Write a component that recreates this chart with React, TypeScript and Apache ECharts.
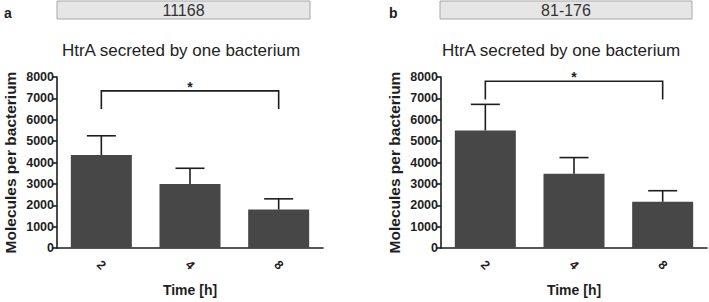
import React, { useEffect, useRef } from "react";
import * as echarts from "echarts";

const categories = ["2", "4", "8"];
const meansA = [4350, 3000, 1800];
const sdA = [900, 730, 500];
const meansB = [5500, 3470, 2160];
const sdB = [1220, 760, 520];
// bracket: [fromIndex, toIndex, barY, legBottomY]
const bracketA = [0, 2, 7350, 6500];
const bracketB = [0, 2, 7800, 6950];
const yTicks = { min: 0, max: 8000, interval: 1000 };
const strainA = "11168";
const strainB = "81-176";
const title = "HtrA secreted by one bacterium";
const yName = "Molecules per bacterium";
const xName = "Time [h]";

const FONT = "'Liberation Sans', Arial, Helvetica, sans-serif";
const INK = "#1e1e1e";

export default function App() {
  const ref = useRef<HTMLDivElement>(null);
  useEffect(() => {
    if (!ref.current) return;
    const chart = echarts.init(ref.current, undefined, { renderer: "svg" });

    const errRender = (params: any, api: any) => {
      const base = api.coord([api.value(0), api.value(1)]);
      const top = api.coord([api.value(0), api.value(1) + api.value(2)]);
      const half = 14.5;
      const st = { stroke: INK, lineWidth: 1.6 };
      return {
        type: "group",
        children: [
          { type: "line", shape: { x1: base[0], y1: base[1], x2: top[0], y2: top[1] }, style: st },
          { type: "line", shape: { x1: top[0] - half, y1: top[1], x2: top[0] + half, y2: top[1] }, style: st },
        ],
      };
    };
    const bracketRender = (params: any, api: any) => {
      const p1 = api.coord([api.value(0), api.value(2)]);
      const p2 = api.coord([api.value(1), api.value(2)]);
      const l1 = api.coord([api.value(0), api.value(3)]);
      const st = { stroke: INK, lineWidth: 1.6, fill: "none" };
      return {
        type: "group",
        children: [
          { type: "polyline", shape: { points: [[p1[0], l1[1]], p1, p2, [p2[0], l1[1]]] }, style: st },
          {
            type: "text",
            style: {
              text: "*",
              x: (p1[0] + p2[0]) / 2,
              y: p1[1] - 4,
              align: "center",
              verticalAlign: "middle",
              fontSize: 14,
              fontWeight: "bold",
              fontFamily: FONT,
              fill: INK,
            },
          },
        ],
      };
    };

    const mkX = (gi: number) => ({
      type: "category",
      gridIndex: gi,
      data: categories,
      axisLine: { lineStyle: { color: INK, width: 1.6 } },
      axisTick: { alignWithLabel: true, length: 4, lineStyle: { color: INK, width: 1.6 } },
      axisLabel: {
        rotate: -45,
        align: "center",
        verticalAlign: "middle",
        margin: 17,
        color: INK,
        fontSize: 12.5,
        fontWeight: "bold",
        fontFamily: FONT,
      },
      name: xName,
      nameLocation: "middle",
      nameGap: 35,
      nameTextStyle: { color: INK, fontSize: 14, fontWeight: "bold", fontFamily: FONT },
    });
    const mkY = (gi: number) => ({
      type: "value",
      gridIndex: gi,
      min: yTicks.min,
      max: yTicks.max,
      interval: yTicks.interval,
      splitLine: { show: false },
      axisLine: { show: true, lineStyle: { color: INK, width: 1.6 } },
      axisTick: { show: true, length: 4, lineStyle: { color: INK, width: 1.6 } },
      axisLabel: {
        color: INK,
        fontSize: 12.5,
        fontWeight: "bold",
        fontFamily: FONT,
        margin: 3,
        formatter: (v: number) => String(v),
      },
      name: yName,
      nameLocation: "middle",
      nameGap: 39,
      nameTextStyle: { color: INK, fontSize: 15.5, fontWeight: "bold", fontFamily: FONT },
    });

    const box = (x: number, w: number, label: string) => ({
      type: "group",
      children: [
        { type: "rect", shape: { x, y: 1, width: w, height: 18 }, style: { fill: "#e6e6e6", stroke: "#a8a8a8", lineWidth: 1 } },
        {
          type: "text",
          style: { text: label, x: x + w / 2, y: 10.5, align: "center", verticalAlign: "middle", fontSize: 16, fontFamily: FONT, fill: "#333" },
        },
      ],
    });
    const letter = (x: number, t: string) => ({
      type: "text",
      style: { text: t, x, y: 13, verticalAlign: "middle", fontSize: 14, fontWeight: "bold", fontFamily: FONT, fill: INK },
    });
    const ttl = (cx: number) => ({
      type: "text",
      style: { text: title, x: cx, y: 50, align: "center", verticalAlign: "middle", fontSize: 17, fontFamily: FONT, fill: "#222" },
    });

    const bars = (idx: number, data: number[]) => ({
      type: "bar",
      xAxisIndex: idx,
      yAxisIndex: idx,
      data,
      barWidth: 61,
      itemStyle: { color: "#474747" },
      z: 2,
    });
    const errs = (idx: number, m: number[], s: number[]) => ({
      type: "custom",
      xAxisIndex: idx,
      yAxisIndex: idx,
      data: m.map((v, i) => [i, v, s[i]]),
      encode: { x: 0, y: 1 },
      renderItem: errRender,
      z: 3,
    });
    const brk = (idx: number, b: number[]) => ({
      type: "custom",
      xAxisIndex: idx,
      yAxisIndex: idx,
      data: [b],
      encode: { x: [0, 1], y: [2, 3] },
      renderItem: bracketRender,
      z: 3,
    });

    chart.setOption({
      animation: false,
      backgroundColor: "#ffffff",
      grid: [
        { left: 57, top: 77, width: 266, height: 176 },
        { left: 441, top: 77, width: 266, height: 176 },
      ],
      xAxis: [mkX(0), mkX(1)],
      yAxis: [mkY(0), mkY(1)],
      graphic: [
        box(57, 253, strainA),
        box(440, 252, strainB),
        letter(4, "a"),
        letter(389, "b"),
        ttl(181),
        ttl(561),
      ],
      series: [
        bars(0, meansA),
        errs(0, meansA, sdA),
        brk(0, bracketA),
        bars(1, meansB),
        errs(1, meansB, sdB),
        brk(1, bracketB),
      ],
    });
    return () => chart.dispose();
  }, []);
  return <div ref={ref} style={{ position: "fixed", left: 0, top: 0, width: 709, height: 302 }} />;
}
